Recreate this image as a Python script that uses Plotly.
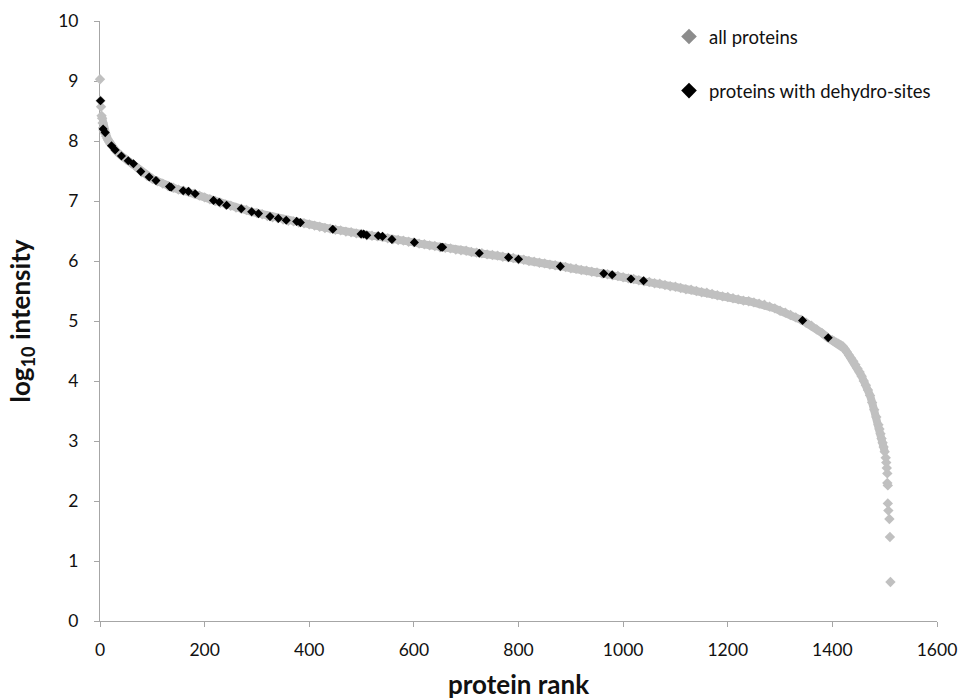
import plotly.graph_objects as go

# Ranked log10 intensities of all identified proteins
all_rank = [0, 1, 2, 3, 4, 5, 6, 7, 8, 10, 12, 14, 16, 18,
            20, 30, 40, 50, 60, 70, 80, 90, 100, 110, 120, 130, 140, 150, 160, 170, 180, 190,
            200, 210, 220, 230, 240, 250, 260, 270, 280, 290, 300, 310, 320, 330, 340, 350,
            360, 370, 380, 390, 400, 410, 420, 430, 440, 450, 460, 470, 480, 490, 500, 510,
            520, 530, 540, 550, 560, 570, 580, 590, 600, 610, 620, 630, 640, 650, 660, 670,
            680, 690, 700, 710, 720, 730, 740, 750, 760, 770, 780, 790, 800, 810, 820, 830,
            840, 850, 860, 870, 880, 890, 900, 910, 920, 930, 940, 950, 960, 970, 980, 990,
            1000, 1010, 1020, 1030, 1040, 1050, 1060, 1070, 1080, 1090, 1100, 1110, 1120, 1130,
            1140, 1150, 1160, 1170, 1180, 1190, 1200, 1210, 1220, 1230, 1240, 1250, 1260, 1270,
            1280, 1290, 1300, 1310, 1320, 1330, 1340, 1350, 1360, 1370, 1380, 1390,
            1400, 1404, 1408, 1412, 1416, 1420, 1424, 1428, 1432, 1436, 1440, 1444, 1448, 1452,
            1456, 1460, 1464, 1468, 1472, 1476, 1480, 1484, 1488, 1490, 1492, 1494, 1496, 1498,
            1500, 1502, 1503, 1504, 1505, 1505, 1506, 1506, 1507, 1509, 1510, 1511]
all_log_int = [9.03, 8.67, 8.57, 8.42, 8.38, 8.30, 8.22, 8.18, 8.15, 8.12, 8.08, 8.04, 8.01, 7.98,
               7.95, 7.84, 7.76, 7.69, 7.63, 7.56, 7.48, 7.42, 7.37, 7.33, 7.29, 7.25, 7.22, 7.19, 7.17, 7.15, 7.12, 7.09,
               7.06, 7.03, 7.00, 6.97, 6.94, 6.92, 6.89, 6.87, 6.85, 6.82, 6.80, 6.78, 6.75, 6.73, 6.71, 6.69,
               6.67, 6.66, 6.64, 6.63, 6.61, 6.59, 6.57, 6.55, 6.54, 6.52, 6.51, 6.49, 6.48, 6.46, 6.45, 6.43,
               6.42, 6.41, 6.40, 6.38, 6.36, 6.35, 6.34, 6.32, 6.31, 6.29, 6.28, 6.26, 6.25, 6.23, 6.22, 6.21,
               6.19, 6.18, 6.17, 6.15, 6.14, 6.13, 6.11, 6.10, 6.09, 6.07, 6.06, 6.05, 6.03, 6.02, 6.00, 5.99,
               5.97, 5.96, 5.94, 5.93, 5.91, 5.90, 5.88, 5.87, 5.85, 5.84, 5.82, 5.81, 5.79, 5.78, 5.76, 5.75,
               5.73, 5.71, 5.70, 5.68, 5.66, 5.65, 5.63, 5.62, 5.60, 5.58, 5.57, 5.55, 5.53, 5.52,
               5.50, 5.48, 5.47, 5.45, 5.43, 5.41, 5.40, 5.38, 5.36, 5.34, 5.33, 5.31, 5.29, 5.27,
               5.24, 5.21, 5.17, 5.14, 5.10, 5.06, 5.02, 4.97, 4.92, 4.86, 4.80, 4.73,
               4.68, 4.66, 4.64, 4.62, 4.60, 4.58, 4.53, 4.48, 4.43, 4.38, 4.33, 4.27, 4.21, 4.15,
               4.08, 4.00, 3.93, 3.85, 3.76, 3.64, 3.52, 3.40, 3.27, 3.20, 3.12, 3.04, 2.97, 2.90,
               2.82, 2.72, 2.64, 2.55, 2.46, 2.30, 2.26, 1.96, 1.84, 1.70, 1.40, 0.65, 0.53]

# Proteins carrying dehydro-sites
dh_rank = [1, 6, 10, 22, 29, 41, 54, 64, 78, 94, 107, 133, 136, 159, 169, 182, 217, 228, 242,
           270, 290, 303, 325, 341, 356, 376, 383, 445, 499, 504, 510, 532, 540, 558, 601,
           652, 655, 725, 781, 800, 880, 963, 979, 1015, 1039, 1343, 1392]
dh_log_int = [8.67, 8.20, 8.14, 7.92, 7.85, 7.75, 7.67, 7.62, 7.49, 7.40, 7.34, 7.24, 7.23, 7.17,
              7.16, 7.12, 7.01, 6.98, 6.93, 6.87, 6.82, 6.79, 6.74, 6.71, 6.68, 6.66, 6.64, 6.53,
              6.45, 6.45, 6.43, 6.42, 6.41, 6.36, 6.31, 6.23, 6.23, 6.13, 6.06, 6.03, 5.91, 5.79,
              5.77, 5.70, 5.67, 5.01, 4.72]

FONT = "Lato, 'Open Sans', sans-serif"
AXIS_GREY = "#a6a6a6"
GREY = "#c0c0c0"
W, H = 958, 700
ML, MR, MT, MB = 100, 21, 21, 79
PW, PH = W - ML - MR, H - MT - MB

# The densely packed middle of the ranking merges into a continuous band;
# the few top and bottom proteins stand apart as single diamonds.
HEAD, TAIL = 3, all_rank.index(1502)

fig = go.Figure()

fig.add_trace(go.Scatter(
    x=all_rank[HEAD:TAIL], y=all_log_int[HEAD:TAIL], mode="lines+markers", showlegend=False,
    line=dict(color=GREY, width=8),
    marker=dict(symbol="diamond", size=8, color=GREY, line=dict(width=0)),
    cliponaxis=False,
))
fig.add_trace(go.Scatter(
    x=all_rank[:HEAD] + all_rank[TAIL:], y=all_log_int[:HEAD] + all_log_int[TAIL:],
    mode="markers", showlegend=False,
    marker=dict(symbol="diamond", size=8, color=GREY, line=dict(width=0)),
    cliponaxis=False,
))
fig.add_trace(go.Scatter(
    x=dh_rank, y=dh_log_int, mode="markers", showlegend=False,
    marker=dict(symbol="diamond", size=7, color="#000000", line=dict(width=0)),
    cliponaxis=False,
))

# Legend entries
fig.add_trace(go.Scatter(
    x=[None], y=[None], mode="markers", name="all proteins", legendgroup="a",
    marker=dict(symbol="diamond", size=12, color="#8c8c8c", line=dict(width=0)),
))
fig.add_trace(go.Scatter(
    x=[None], y=[None], mode="markers", name="proteins with dehydro-sites", legendgroup="b",
    marker=dict(symbol="diamond", size=12, color="#000000", line=dict(width=0)),
))

fig.update_layout(
    width=W, height=H,
    margin=dict(l=ML, r=MR, t=MT, b=MB, autoexpand=False),
    paper_bgcolor="white", plot_bgcolor="white",
    font=dict(family=FONT, size=17.5, color="#111111"),
    legend=dict(
        x=(669 - ML) / PW, y=1 - (18 - MT) / PH,
        xanchor="left", yanchor="top",
        traceorder="grouped", tracegroupgap=27,
        font=dict(family=FONT, size=18.5, color="#111111"),
        bgcolor="rgba(0,0,0,0)", itemclick=False,
    ),
    xaxis=dict(
        range=[0, 1600], dtick=200, tick0=0,
        showgrid=False, zeroline=False, automargin=False,
        showline=True, linecolor=AXIS_GREY, linewidth=1,
        ticks="outside", ticklen=5, tickcolor=AXIS_GREY,
        tickfont=dict(size=17.5), ticklabelstandoff=8, layer="below traces",
        title=dict(text="<b>protein rank</b>", font=dict(size=26, family=FONT), standoff=22),
    ),
    yaxis=dict(
        range=[0, 10], dtick=1, tick0=0,
        showgrid=False, zeroline=False, automargin=False,
        showline=True, linecolor=AXIS_GREY, linewidth=1,
        ticks="outside", ticklen=5, tickcolor=AXIS_GREY,
        tickfont=dict(size=17.5), ticklabelstandoff=12, layer="below traces",
        title=dict(text="<b>log<sub>10</sub> intensity</b>", font=dict(size=26, family=FONT), standoff=20),
    ),
)

fig.write_html("out.html")
